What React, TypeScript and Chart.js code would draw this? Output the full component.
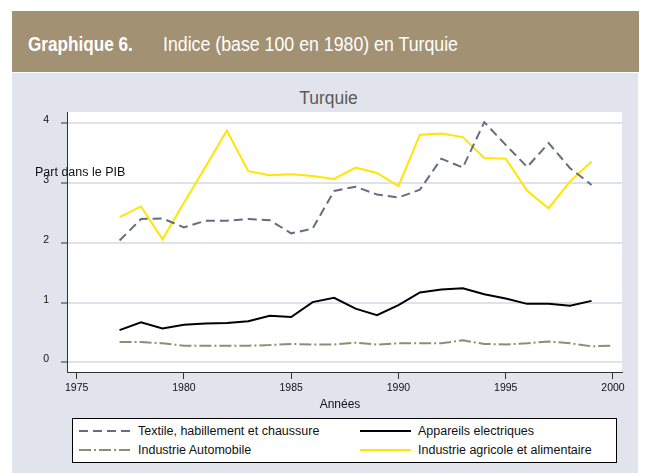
import React, { useEffect, useRef } from "react";
import { Chart, registerables } from "chart.js";

Chart.register(...registerables);

const YEARS = [1977, 1978, 1979, 1980, 1981, 1982, 1983, 1984, 1985, 1986, 1987, 1988, 1989, 1990, 1991, 1992, 1993, 1994, 1995, 1996, 1997, 1998, 1999];
const AUTO_YEARS = [...YEARS, 2000];

const textile = [2.04, 2.40, 2.41, 2.26, 2.37, 2.37, 2.40, 2.38, 2.16, 2.24, 2.87, 2.94, 2.81, 2.76, 2.89, 3.41, 3.26, 4.02, 3.64, 3.27, 3.67, 3.25, 2.97];
const electric = [0.54, 0.67, 0.57, 0.63, 0.65, 0.66, 0.69, 0.78, 0.76, 1.01, 1.08, 0.90, 0.79, 0.96, 1.17, 1.22, 1.24, 1.14, 1.07, 0.98, 0.98, 0.95, 1.03];
const automobile = [0.34, 0.34, 0.32, 0.28, 0.28, 0.28, 0.28, 0.29, 0.31, 0.30, 0.30, 0.33, 0.30, 0.32, 0.32, 0.32, 0.37, 0.31, 0.30, 0.32, 0.35, 0.32, 0.27, 0.28];
const agri = [2.43, 2.61, 2.06, 2.67, 3.27, 3.88, 3.20, 3.13, 3.15, 3.12, 3.07, 3.26, 3.17, 2.95, 3.81, 3.83, 3.77, 3.42, 3.41, 2.87, 2.58, 3.03, 3.36];

const X_TICKS = [1975, 1980, 1985, 1990, 1995, 2000];
const Y_TICKS = [0, 1, 2, 3, 4];

const SERIES_NAMES = [
  "Textile, habillement et chaussure",
  "Appareils electriques",
  "Industrie Automobile",
  "Industrie agricole et alimentaire",
];
const COLORS = ["#676C80", "#000000", "#8E8E72", "#FFE600"];
const DASHES: number[][] = [[9, 5], [], [12, 3, 2, 3], []];

const FONT = "'Liberation Sans', Arial, Helvetica, sans-serif";

const toPts = (xs: number[], ys: number[]) => xs.map((x, i) => ({ x, y: ys[i] }));

const bgPlugin = {
  id: "plotBg",
  beforeDraw(chart: any) {
    const { ctx, chartArea } = chart;
    ctx.save();
    ctx.fillStyle = "#FFFFFF";
    ctx.fillRect(chartArea.left, chartArea.top, chartArea.right - chartArea.left, chartArea.bottom - chartArea.top);
    ctx.restore();
  },
};

function LegendLine({ x, y, color, dash }: { x: number; y: number; color: string; dash: number[] }) {
  return (
    <svg style={{ position: "absolute", left: x, top: y - 3, overflow: "visible" }} width={51} height={6}>
      <line x1={0} y1={3} x2={51} y2={3} stroke={color} strokeWidth={2} strokeDasharray={dash.length ? dash.join(" ") : undefined} />
    </svg>
  );
}

export default function App() {
  const canvasRef = useRef<HTMLCanvasElement | null>(null);

  useEffect(() => {
    const canvas = canvasRef.current;
    if (!canvas) return;
    const datasets = [
      { label: SERIES_NAMES[0], data: toPts(YEARS, textile) },
      { label: SERIES_NAMES[1], data: toPts(YEARS, electric) },
      { label: SERIES_NAMES[2], data: toPts(AUTO_YEARS, automobile) },
      { label: SERIES_NAMES[3], data: toPts(YEARS, agri) },
    ].map((d, i) => ({
      ...d,
      borderColor: COLORS[i],
      backgroundColor: COLORS[i],
      borderWidth: 2,
      borderDash: DASHES[i],
      pointRadius: 0,
      tension: 0,
      fill: false,
    }));

    const chart = new Chart(canvas, {
      type: "line",
      data: { datasets },
      options: {
        animation: false,
        responsive: false,
        devicePixelRatio: 1,
        layout: { padding: { top: 112, right: 25, left: 0, bottom: 0 } },
        plugins: {
          legend: { display: false },
          title: { display: false },
          tooltip: { enabled: false },
        },
        scales: {
          x: {
            type: "linear",
            min: 1974.55,
            max: 2000.42,
            afterFit(s: any) {
              s.height = 101;
            },
            afterBuildTicks(s: any) {
              s.ticks = X_TICKS.map((v) => ({ value: v }));
            },
            grid: { drawOnChartArea: false, drawTicks: true, tickLength: 7, tickColor: "#333333", tickWidth: 1 },
            border: { display: true, color: "#333333", width: 1 },
            ticks: {
              font: { family: FONT, size: 10.5 },
              color: "#111111",
              padding: 3,
              maxRotation: 0,
              autoSkip: false,
              callback: (v: any) => String(v),
            },
          },
          y: {
            type: "linear",
            min: -0.16,
            max: 4.19,
            afterFit(s: any) {
              s.width = 67;
            },
            afterBuildTicks(s: any) {
              s.ticks = Y_TICKS.map((v) => ({ value: v }));
            },
            grid: { color: "#DFE2EA", lineWidth: 2, drawTicks: true, tickLength: 6, tickColor: "#333333", tickWidth: 1 },
            border: { display: true, color: "#333333", width: 1 },
            ticks: {
              font: { family: FONT, size: 10.5 },
              color: "#111111",
              padding: 12,
              labelOffset: -3,
              callback: (v: any) => String(v),
            },
          },
        },
      } as any,
      plugins: [bgPlugin],
    });
    return () => chart.destroy();
  }, []);

  const abs = (s: React.CSSProperties): React.CSSProperties => ({ position: "absolute", ...s });

  return (
    <div style={abs({ left: 0, top: 0, width: 647, height: 473, overflow: "hidden", background: "#FFFFFF", fontFamily: FONT })}>
      {/* Header bar */}
      <div style={abs({ left: 12, top: 11, width: 627, height: 61, background: "#A39173" })} />
      <div
        style={abs({
          left: 28,
          top: 35,
          fontSize: 19.5,
          lineHeight: "19.5px",
          color: "#FFFFFF",
          whiteSpace: "nowrap",
          transform: "scaleX(0.88)",
          transformOrigin: "left center",
        })}
      >
        <span style={{ fontWeight: "bold" }}>Graphique 6.</span>
      </div>
      <div
        style={abs({
          left: 163,
          top: 35,
          fontSize: 19.5,
          lineHeight: "19.5px",
          color: "#FFFFFF",
          whiteSpace: "nowrap",
          transform: "scaleX(0.91)",
          transformOrigin: "left center",
        })}
      >
        Indice (base 100 en 1980) en Turquie
      </div>
      {/* Panel */}
      <div style={abs({ left: 12, top: 73, width: 626, height: 400, background: "#E1E4EC" })} />
      {/* Chart title */}
      <div
        style={abs({
          left: 328.5,
          top: 90,
          fontSize: 17.5,
          lineHeight: "17.5px",
          color: "#5A5A5A",
          whiteSpace: "nowrap",
          transform: "translateX(-50%)",
        })}
      >
        Turquie
      </div>
      <canvas ref={canvasRef} width={647} height={473} style={abs({ left: 0, top: 0, width: 647, height: 473 })} />
      {/* Y axis title */}
      <div style={abs({ left: 35, top: 166, fontSize: 12.5, lineHeight: "12.5px", color: "#111111", whiteSpace: "nowrap" })}>
        Part dans le PIB
      </div>
      {/* X axis title */}
      <div
        style={abs({
          left: 340,
          top: 398,
          fontSize: 12,
          lineHeight: "12px",
          color: "#111111",
          whiteSpace: "nowrap",
          transform: "translateX(-50%)",
        })}
      >
        Années
      </div>
      {/* Legend */}
      <div style={abs({ left: 72, top: 418, width: 543, height: 43, background: "#FFFFFF", border: "1px solid #000000" })} />
      <LegendLine x={79} y={431} color={COLORS[0]} dash={DASHES[0]} />
      <LegendLine x={360} y={431} color={COLORS[1]} dash={DASHES[1]} />
      <LegendLine x={79} y={450} color={COLORS[2]} dash={DASHES[2]} />
      <LegendLine x={360} y={450} color={COLORS[3]} dash={DASHES[3]} />
      <div style={abs({ left: 138, top: 425, fontSize: 12.5, lineHeight: "12.5px", color: "#111111", whiteSpace: "nowrap" })}>
        {SERIES_NAMES[0]}
      </div>
      <div style={abs({ left: 418, top: 425, fontSize: 12.5, lineHeight: "12.5px", color: "#111111", whiteSpace: "nowrap" })}>
        {SERIES_NAMES[1]}
      </div>
      <div style={abs({ left: 138, top: 444, fontSize: 12.5, lineHeight: "12.5px", color: "#111111", whiteSpace: "nowrap" })}>
        {SERIES_NAMES[2]}
      </div>
      <div style={abs({ left: 418, top: 444, fontSize: 12.5, lineHeight: "12.5px", color: "#111111", whiteSpace: "nowrap" })}>
        {SERIES_NAMES[3]}
      </div>
    </div>
  );
}
